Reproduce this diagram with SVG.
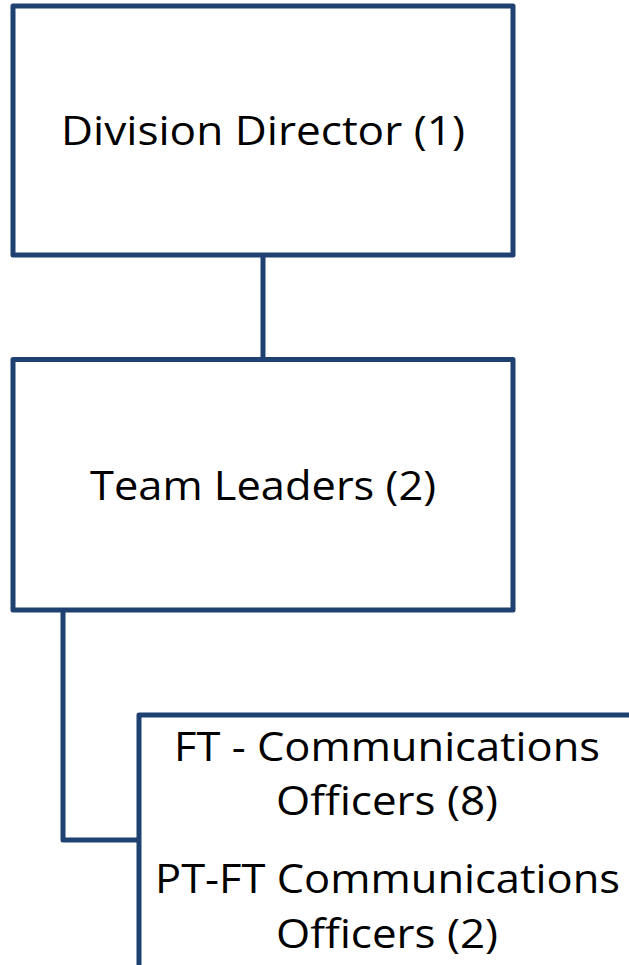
<svg xmlns="http://www.w3.org/2000/svg" width="629" height="965" viewBox="0 0 629 965">
  <style>
    .box { fill: #ffffff; stroke: #1f4172; stroke-width: 5; stroke-linejoin: round; }
    .link { fill: none; stroke: #1f4172; stroke-width: 5; stroke-linejoin: round; }
    .label { font-family: "Open Sans", "Liberation Sans", sans-serif; font-size: 41px; fill: #000000; }
  </style>
  <rect width="629" height="965" fill="#ffffff"/>

  <!-- connectors -->
  <g id="connectors">
    <line class="link" x1="263" y1="255" x2="263" y2="359"/>
    <polyline class="link" points="63,610 63,840 139,840"/>
  </g>

  <g id="division-director">
    <rect class="box" x="13" y="6" width="500" height="249"/>
    <text class="label" x="61" y="145" textLength="404" lengthAdjust="spacingAndGlyphs">Division Director (1)</text>
  </g>

  <g id="team-leaders">
    <rect class="box" x="13" y="359.5" width="500" height="250.5"/>
    <text class="label" x="90" y="500" textLength="346" lengthAdjust="spacingAndGlyphs">Team Leaders (2)</text>
  </g>

  <g id="communications-officers">
    <rect class="box" x="139" y="715" width="500" height="270"/>
    <text class="label" x="174" y="761" textLength="426" lengthAdjust="spacingAndGlyphs">FT - Communications</text>
    <text class="label" x="276" y="815" textLength="222" lengthAdjust="spacingAndGlyphs">Officers (8)</text>
    <text class="label" x="155" y="893" textLength="465" lengthAdjust="spacingAndGlyphs">PT-FT Communications</text>
    <text class="label" x="276" y="948" textLength="222" lengthAdjust="spacingAndGlyphs">Officers (2)</text>
  </g>
</svg>
